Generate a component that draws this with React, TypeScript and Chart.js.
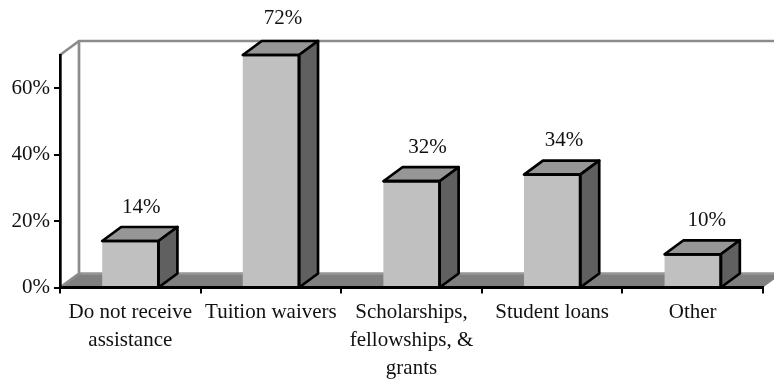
import React, { useEffect, useRef } from "react";
import { Chart, registerables } from "chart.js";

Chart.register(...registerables);

const categories = [
  ["Do not receive", "assistance"],
  ["Tuition waivers"],
  ["Scholarships,", "fellowships, &", "grants"],
  ["Student loans"],
  ["Other"],
];
const shares = [14, 72, 32, 34, 10];
const axisMax = 70;
const axisStep = 20;

const DEPTH_X = 19;
const DEPTH_Y = 14;
const STROKE = 2.7;
const FONT = { family: "'Liberation Serif', serif", size: 21 };
// Horizontal shift of each value label from the centre of its bar's front face.
const LABEL_SHIFT = [11, 12, 16, 12, 14];

const path = (ctx: CanvasRenderingContext2D, pts: number[][], fill: string | null, stroke: string | null, width = STROKE) => {
  ctx.beginPath();
  pts.forEach(([x, y], i) => (i ? ctx.lineTo(x, y) : ctx.moveTo(x, y)));
  if (fill) {
    ctx.closePath();
    ctx.fillStyle = fill;
    ctx.fill();
  }
  if (stroke) {
    ctx.strokeStyle = stroke;
    ctx.lineWidth = width;
    ctx.lineJoin = "round";
    ctx.stroke();
  }
};

// Back wall, side wall and floor of the 3D plot box.
const plotBox = {
  id: "plotBox",
  beforeDatasetsDraw(chart: any) {
    const { ctx, chartArea: a } = chart;
    ctx.save();
    path(ctx, [[a.left, a.bottom], [a.left + DEPTH_X, a.bottom - DEPTH_Y], [a.right + DEPTH_X, a.bottom - DEPTH_Y], [a.right, a.bottom]], "#808080", null);
    path(ctx, [[a.left + DEPTH_X, a.bottom - DEPTH_Y], [a.right + DEPTH_X, a.bottom - DEPTH_Y]], null, "#969696");
    path(ctx, [[a.left, a.bottom], [a.left + DEPTH_X, a.bottom - DEPTH_Y], [a.left + DEPTH_X, a.top - DEPTH_Y], [a.right + DEPTH_X, a.top - DEPTH_Y]], null, "#8c8c8c");
    path(ctx, [[a.left, a.top], [a.left + DEPTH_X, a.top - DEPTH_Y]], null, "#8c8c8c");
    ctx.restore();
  },
};

// Extruded top and side faces, outlines and value labels for each bar.
const extrudedBars = {
  id: "extrudedBars",
  afterDatasetsDraw(chart: any) {
    const { ctx, chartArea: a } = chart;
    const bars = chart.getDatasetMeta(0).data;
    ctx.save();
    bars.forEach((bar: any, i: number) => {
      const half = bar.width / 2;
      const l = bar.x - half;
      const r = bar.x + half;
      const t = Math.max(bar.y, a.top);
      const b = a.bottom;
      path(ctx, [[l, t], [l + DEPTH_X, t - DEPTH_Y], [r + DEPTH_X, t - DEPTH_Y], [r, t]], "#969696", "#000");
      path(ctx, [[r, t], [r + DEPTH_X, t - DEPTH_Y], [r + DEPTH_X, b - DEPTH_Y], [r, b]], "#606060", "#000");
      path(ctx, [[l, t], [r, t], [r, b], [l, b]], null, "#000");
      ctx.fillStyle = "#111";
      ctx.font = `${FONT.size}px ${FONT.family}`;
      ctx.textAlign = "center";
      ctx.textBaseline = "middle";
      ctx.fillText(`${shares[i]}%`, bar.x + LABEL_SHIFT[i], Math.max(bar.y - 34, 18));
    });
    ctx.restore();
  },
};

export default function App() {
  const ref = useRef<HTMLCanvasElement>(null);

  useEffect(() => {
    document.body.style.margin = "0";
    const chart = new Chart(ref.current!, {
      type: "bar",
      data: {
        labels: categories,
        datasets: [
          {
            data: shares,
            backgroundColor: "#C0C0C0",
            borderWidth: 0,
            barPercentage: 0.4,
            categoryPercentage: 1,
          },
        ],
      },
      options: {
        responsive: false,
        animation: false,
        layout: { padding: { top: 55, right: 11, left: 0, bottom: 0 } },
        plugins: { legend: { display: false }, tooltip: { enabled: false } },
        scales: {
          x: {
            afterFit: (s: any) => {
              s.height = 91.5;
            },
            grid: { drawOnChartArea: false, color: "#000", lineWidth: 2, tickLength: 6 },
            border: { color: "#000", width: 3, z: 1 },
            ticks: {
              color: "#111",
              font: { ...FONT, lineHeight: 1.33 },
              padding: 5,
              maxRotation: 0,
              autoSkip: false,
            },
          },
          y: {
            min: 0,
            max: axisMax,
            afterFit: (s: any) => {
              s.width = 60;
            },
            // The axis runs to 70% but only multiples of 20% carry a tick.
            afterBuildTicks: (s: any) => {
              s.ticks = s.ticks.filter((t: any) => t.value % axisStep === 0);
            },
            grid: { drawOnChartArea: false, color: "#000", lineWidth: 2, tickLength: 6 },
            border: { color: "#000", width: 2.7, z: 1 },
            ticks: {
              stepSize: axisStep,
              color: "#111",
              font: FONT,
              padding: 4,
              callback: (v: any) => `${v}%`,
            },
          },
        },
      },
      plugins: [plotBox, extrudedBars],
    });
    return () => chart.destroy();
  }, []);

  return <canvas ref={ref} width={774} height={379} style={{ display: "block" }} />;
}
